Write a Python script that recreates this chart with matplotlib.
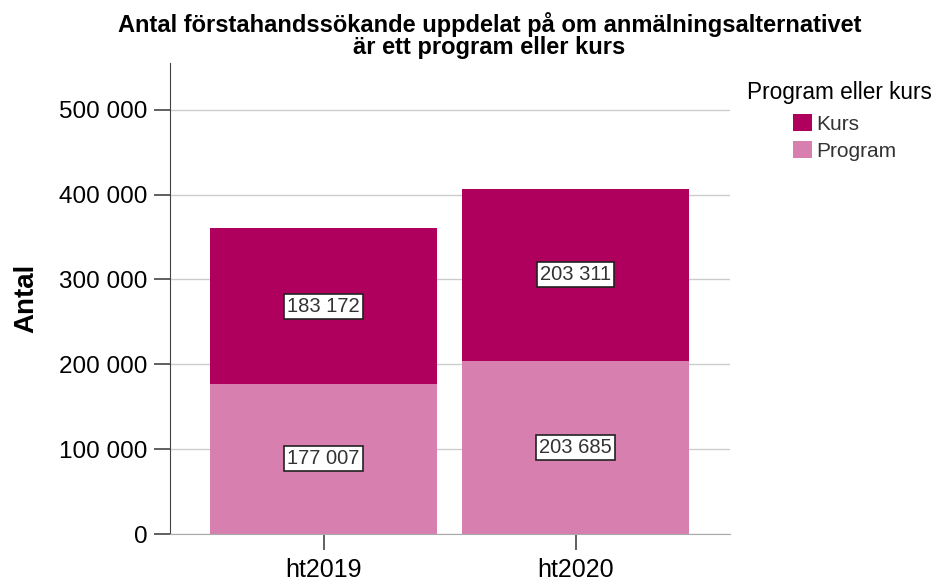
import matplotlib.pyplot as plt

plt.rcParams['font.family'] = ['Liberation Sans', 'DejaVu Sans']

# data
terms = ['ht2019', 'ht2020']
program = [177007, 203685]
kurs = [183172, 203311]
yticks = [0, 100000, 200000, 300000, 400000, 500000]

c_kurs = '#b0005e'
c_prog = '#d77fae'


def fmt(v):
    return f"{v:,}".replace(',', ' ')


fig = plt.figure(figsize=(9.45, 5.84), dpi=100)
ax = fig.add_axes([0.18, 0.0856, 0.5925, 0.8064])

x = range(len(terms))
ax.bar(x, program, width=0.9, color=c_prog, zorder=2, label='Program')
ax.bar(x, kurs, width=0.9, bottom=program, color=c_kurs, zorder=2, label='Kurs')

box = dict(boxstyle='square,pad=0.15', facecolor='white', edgecolor='#222222', linewidth=1.2)
for i in x:
    ax.text(i, program[i] / 2, fmt(program[i]), ha='center', va='center',
            fontsize=14.5, color='#333333', bbox=box, zorder=3)
    ax.text(i, program[i] + kurs[i] / 2, fmt(kurs[i]), ha='center', va='center',
            fontsize=14.5, color='#333333', bbox=box, zorder=3)

ax.set_xlim(-0.609, 1.613)
ax.set_ylim(0, 555000)
ax.set_xticks(list(x))
ax.set_xticklabels(terms)
ax.set_yticks(yticks)
ax.set_yticklabels([fmt(v) for v in yticks])
ax.tick_params(axis='y', labelsize=17.5, length=11.5, width=1.2, color='#444444', pad=5)
ax.tick_params(axis='x', labelsize=18, length=11.5, width=1.2, color='#444444', pad=6)
ax.yaxis.grid(True, color='#cccccc', linewidth=1, zorder=0)
ax.set_axisbelow(True)

for s in ['top', 'right']:
    ax.spines[s].set_visible(False)
ax.spines['left'].set_color('#444444')
ax.spines['bottom'].set_color('#aaaaaa')

ax.set_ylabel('Antal', fontsize=20, fontweight='bold', labelpad=14)

fig.text(0.518, 0.98, 'Antal förstahandssökande uppdelat på om anmälningsalternativet\när ett program eller kurs',
         ha='center', va='top', fontsize=17, fontweight='bold', linespacing=0.98)

# legend title drawn separately, entries are indented under it
fig.text(0.79, 0.842, 'Program eller kurs', ha='left', va='center', fontsize=16.3)
handles, labels = ax.get_legend_handles_labels()
leg = fig.legend(handles[::-1], labels[::-1], loc='upper left', bbox_to_anchor=(0.839, 0.805),
                 frameon=False, fontsize=15,
                 handlelength=0.9, handleheight=0.9, handletextpad=0.2, labelspacing=0.35,
                 borderaxespad=0, borderpad=0)
for t in leg.get_texts():
    t.set_color('#333333')

fig.savefig('out.png', dpi=100)
